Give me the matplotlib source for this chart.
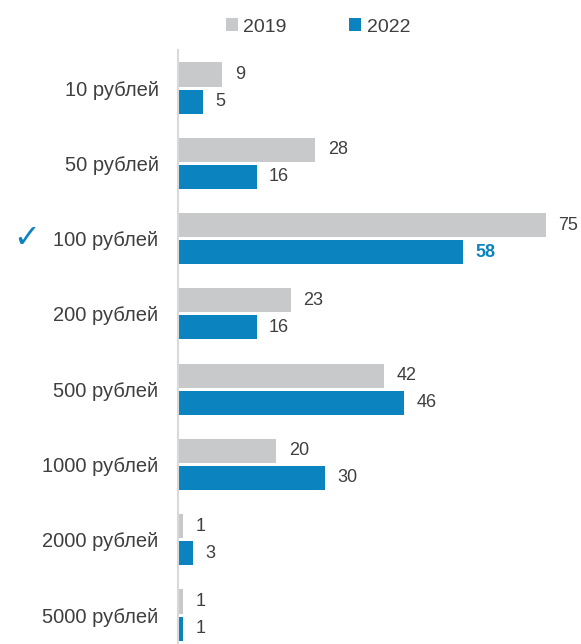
import matplotlib
matplotlib.use("Agg")
import matplotlib.pyplot as plt
import numpy as np

# data
categories = ["10 рублей", "50 рублей", "100 рублей", "200 рублей",
              "500 рублей", "1000 рублей", "2000 рублей", "5000 рублей"]
values_2019 = [9, 28, 75, 23, 42, 20, 1, 1]
values_2022 = [5, 16, 58, 16, 46, 30, 3, 1]
highlight = "100 рублей"

GREY = "#C8C9CB"
BLUE = "#0A83BF"
TEXT = "#3F3F3F"

plt.rcParams["font.family"] = ["Liberation Sans", "DejaVu Sans"]


def main():
    fig = plt.figure(figsize=(5.81, 6.44), dpi=100)
    ax = fig.add_axes([178 / 581, 0.0, 403 / 581, 594 / 644])

    y = np.arange(len(categories))
    h = 0.32
    off = 0.18
    bars19 = ax.barh(y - off, values_2019, height=h, color=GREY, label="2019")
    bars22 = ax.barh(y + off, values_2022, height=h, color=BLUE, label="2022")

    for bar, v in zip(bars19, values_2019):
        ax.annotate(str(v), (bar.get_width(), bar.get_y() + bar.get_height() / 2),
                    xytext=(9, 0), textcoords="offset points", va="center",
                    ha="left", fontsize=13, color=TEXT)
    for cat, bar, v in zip(categories, bars22, values_2022):
        hl = cat == highlight
        ax.annotate(str(v), (bar.get_width(), bar.get_y() + bar.get_height() / 2),
                    xytext=(9, 0), textcoords="offset points", va="center",
                    ha="left", fontsize=13,
                    color=BLUE if hl else TEXT,
                    fontweight="bold" if hl else "normal")

    ax.set_xlim(0, 403 / (368 / 75))
    ax.set_ylim(len(categories) - 1 + 0.385, -0.505)
    ax.set_yticks(y)
    ax.set_yticklabels(categories, fontsize=14.5, color=TEXT)
    ax.tick_params(axis="y", length=0, pad=14)
    ax.set_xticks([])
    for s in ["top", "right", "bottom"]:
        ax.spines[s].set_visible(False)
    ax.spines["left"].set_color("#D9D9D9")
    ax.spines["left"].set_linewidth(1.5)

    # check mark next to the highlighted denomination
    idx = categories.index(highlight)
    ax.annotate("\u2713", (0, idx), xycoords=("axes fraction", "data"),
                xytext=(-109, 0), textcoords="offset points",
                ha="center", va="center", fontsize=23, color=BLUE,
                fontweight="bold", family=["DejaVu Sans"])

    fig.legend(handles=[bars19, bars22], labels=["2019", "2022"],
               loc="center", bbox_to_anchor=(318 / 581, 1 - 27 / 644),
               ncol=2, frameon=False, fontsize=14, handlelength=0.6,
               handleheight=0.6, handletextpad=0.3, columnspacing=3.2,
               labelcolor=TEXT)

    fig.savefig("out.png", dpi=100)


if __name__ == "__main__":
    main()
